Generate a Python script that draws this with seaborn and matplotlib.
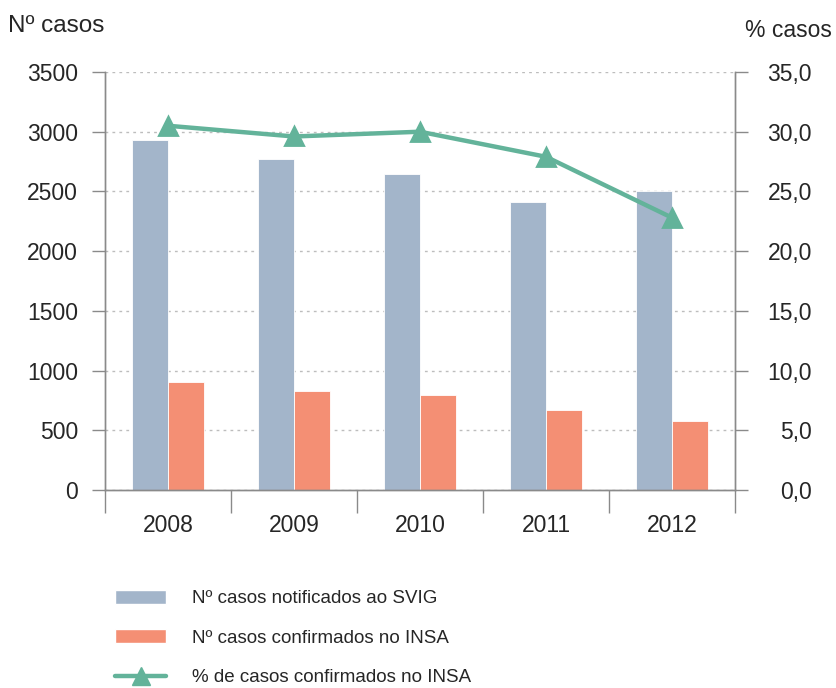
import matplotlib
matplotlib.use("Agg")
import matplotlib.pyplot as plt
import seaborn as sns
import pandas as pd
from matplotlib.patches import Patch
from matplotlib.lines import Line2D
from matplotlib.ticker import FuncFormatter, FixedLocator

years = ["2008", "2009", "2010", "2011", "2012"]
notificados = [2930, 2775, 2650, 2415, 2505]
confirmados = [908, 830, 796, 671, 575]
percent = [30.5, 29.6, 30.0, 27.9, 22.8]
series_names = ["Nº casos notificados ao SVIG", "Nº casos confirmados no INSA"]
line_name = "% de casos confirmados no INSA"

c_blue = "#A3B5CA"
c_orange = "#F48F74"
c_green = "#63B39A"
txt = "#262626"
axc = "#8A8A8A"

sns.set_theme(style="white")
plt.rcParams["font.family"] = ["Liberation Sans", "DejaVu Sans"]

df = pd.DataFrame({
    "ano": years * 2,
    "serie": [series_names[0]] * 5 + [series_names[1]] * 5,
    "valor": notificados + confirmados,
})
dfl = pd.DataFrame({"ano": years, "pct": percent})

fig = plt.figure(figsize=(8.37, 6.88), dpi=100)
ax = fig.add_axes([105 / 837, 1 - 490 / 688, 630 / 837, 418 / 688])

sns.barplot(data=df, x="ano", y="valor", hue="serie", order=years,
            hue_order=series_names, palette=[c_blue, c_orange], saturation=1,
            width=0.57, gap=0, edgecolor="white", linewidth=0.6,
            legend=False, ax=ax)
ax.set_xlim(-0.5, 4.5)
ax.set_ylim(0, 3500)
ax.set_yticks(range(0, 3501, 500))
ax.yaxis.grid(True, color="#BDBDBD", linestyle=(0, (2, 3)), linewidth=1)
ax.set_axisbelow(True)
ax.set_xlabel("")
ax.set_ylabel("")

ax2 = ax.twinx()
sns.pointplot(data=dfl, x="ano", y="pct", order=years, color=c_green,
              markers="^", linestyles="-", ax=ax2)
for ln in ax2.lines:
    ln.set_linewidth(3.2)
    ln.set_markersize(13)
ax2.set_xlim(-0.5, 4.5)
ax2.set_ylim(0, 35)
ax2.set_yticks(range(0, 36, 5))
ax2.yaxis.set_major_formatter(FuncFormatter(lambda v, p: f"{v:.1f}".replace(".", ",")))
ax2.set_xlabel("")
ax2.set_ylabel("")

for a in (ax, ax2):
    a.spines["top"].set_visible(False)
    for s in ["left", "right", "bottom"]:
        a.spines[s].set_color(axc)
        a.spines[s].set_linewidth(1)

ax.tick_params(axis="y", which="major", length=9.4, width=1, color=axc, pad=10,
               labelsize=16.5, labelcolor=txt, direction="out", left=True)
ax2.tick_params(axis="y", which="major", length=9.4, width=1, color=axc, pad=46,
                labelsize=16.5, labelcolor=txt, direction="out", right=True)
for lab in ax2.get_yticklabels():
    lab.set_horizontalalignment("right")

ax.xaxis.set_minor_locator(FixedLocator([-0.5, 0.5, 1.5, 2.5, 3.5, 4.5]))
ax.tick_params(axis="x", which="major", length=0, pad=17, labelsize=16.5, labelcolor=txt)
ax.tick_params(axis="x", which="minor", length=16.5, width=1, color=axc,
               direction="out", bottom=True)
ax2.tick_params(axis="x", which="both", length=0, labelbottom=False)

fig.text(8 / 837, 1 - 32 / 688, "Nº casos", fontsize=17.5, color=txt, ha="left", va="baseline")
fig.text(832 / 837, 1 - 37 / 688, "% casos", fontsize=16.5, color=txt, ha="right", va="baseline")

handles = [
    Patch(facecolor=c_blue, edgecolor="white", label=series_names[0]),
    Patch(facecolor=c_orange, edgecolor="white", label=series_names[1]),
    Line2D([0], [0], color=c_green, lw=3.2, marker="^", markersize=13, label=line_name),
]
leg = fig.legend(handles=handles, loc="upper left",
                 bbox_to_anchor=(108 / 837, 1 - 582 / 688), frameon=False,
                 fontsize=13.5, labelcolor=txt, handlelength=2.7, handleheight=0.8,
                 handletextpad=1.4, labelspacing=1.17, borderaxespad=0)

fig.savefig("out.png", dpi=100)
